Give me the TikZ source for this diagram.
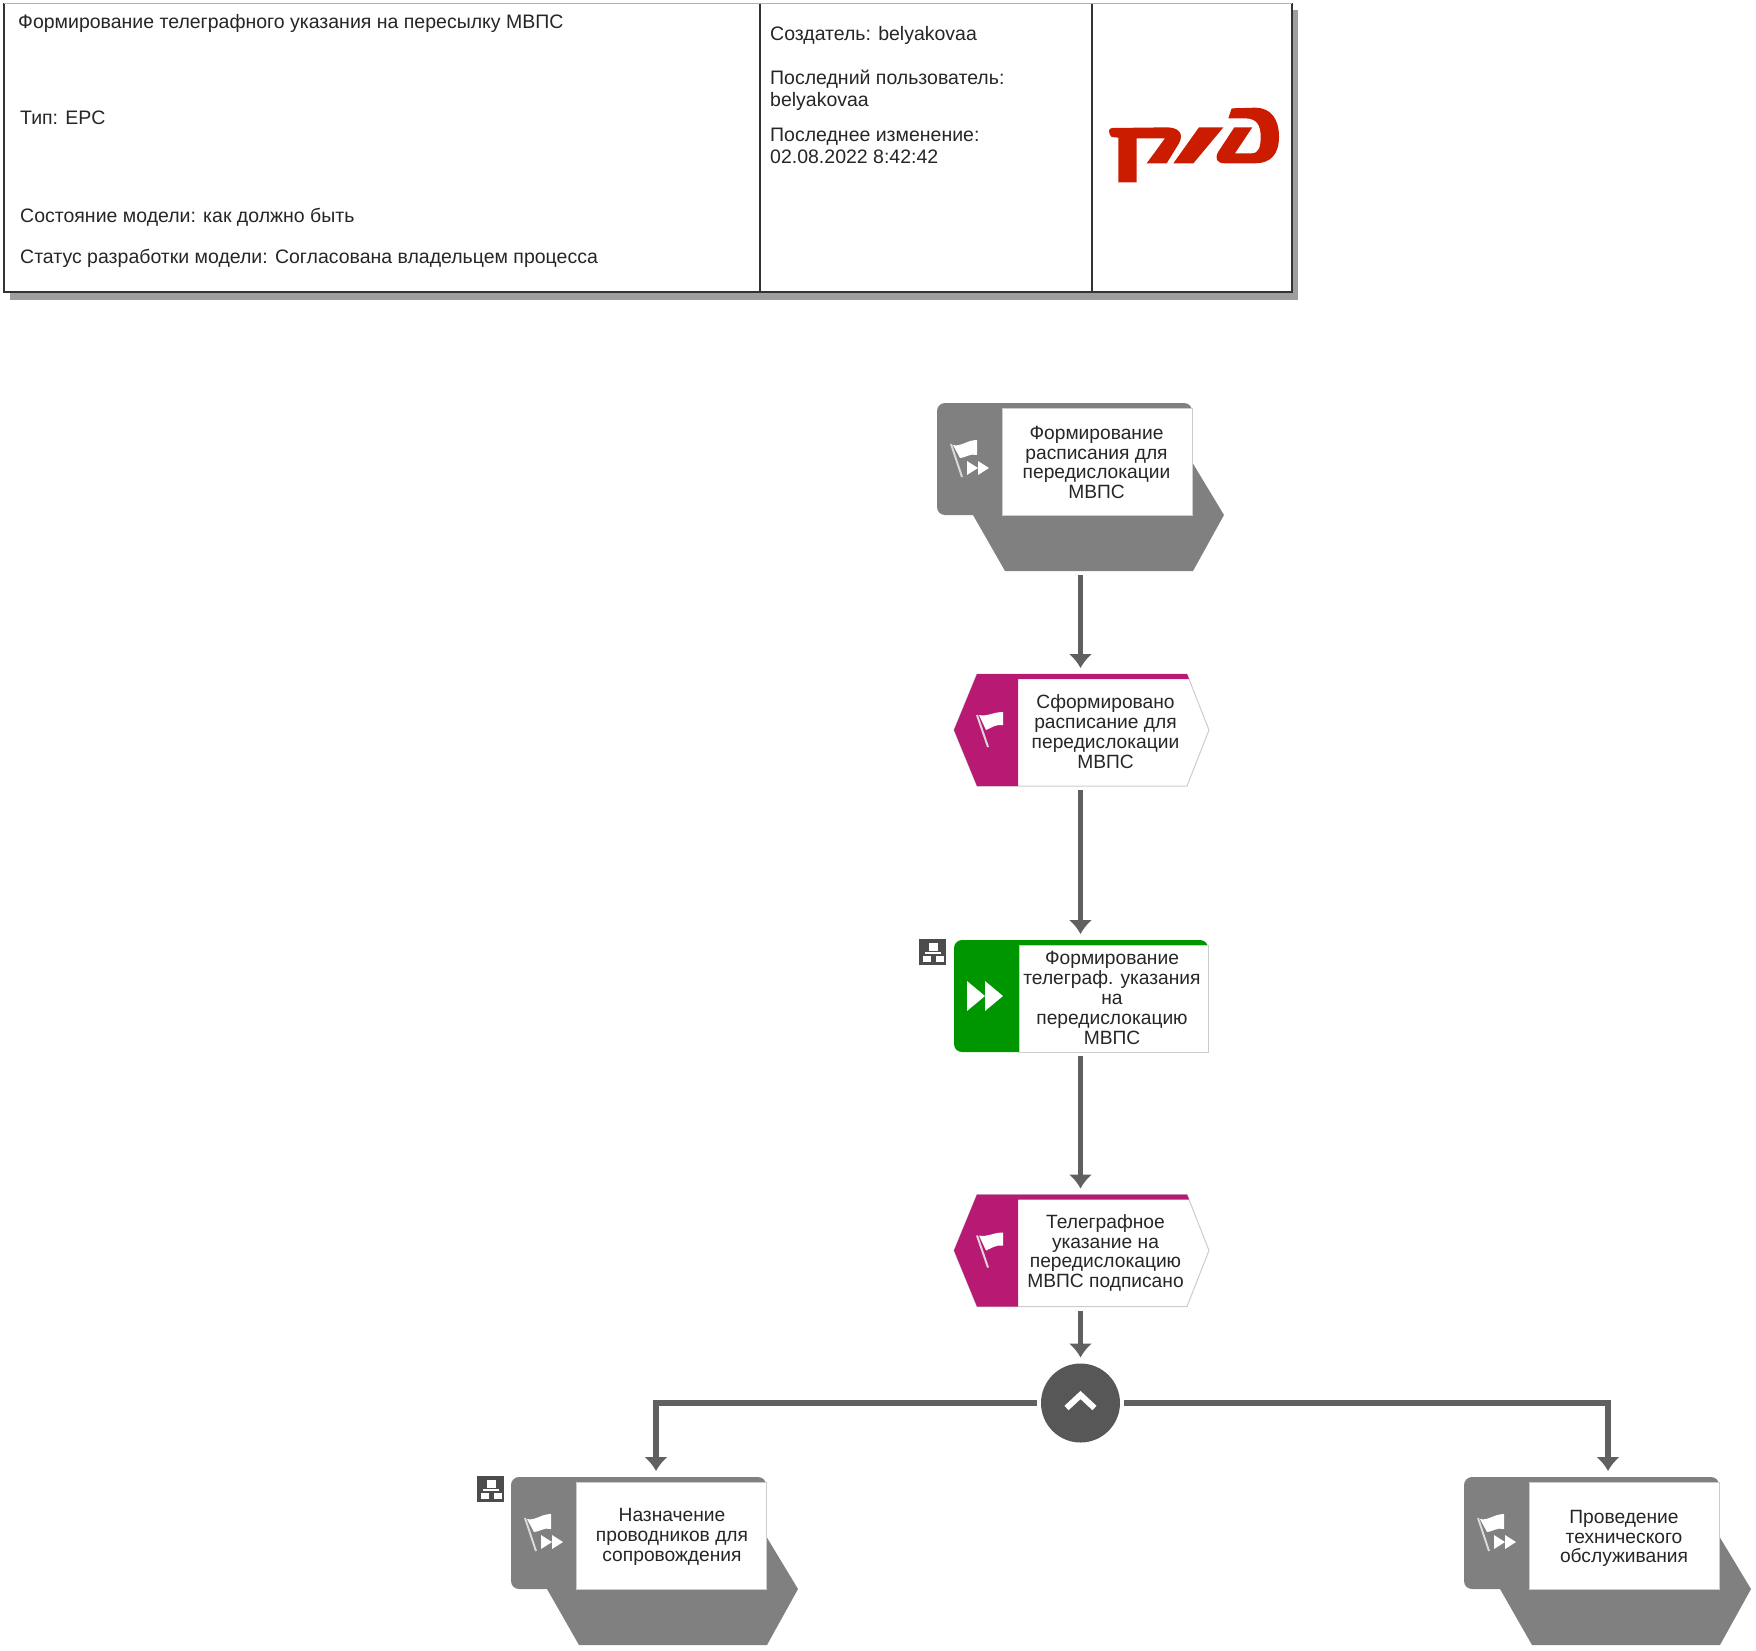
\documentclass[tikz,border=0pt]{standalone}
\usepackage{fontspec}
\setmainfont{Liberation Sans}
\usetikzlibrary{arrows.meta}
\tikzset{>={Latex[width=24pt,length=14pt]}}
\definecolor{procgray}{HTML}{808080}
\definecolor{linegray}{HTML}{606060}
\definecolor{evtpink}{HTML}{B81A73}
\definecolor{funcgreen}{HTML}{009600}
\definecolor{logored}{HTML}{CC1C00}
\tikzset{
  conn/.style={->,draw=linegray,line width=5.5pt,shorten <=4pt,shorten >=6pt},
  procbox/.style={inner sep=0pt,outer sep=0pt,minimum width=287pt,minimum height=168pt},
  flowbox/.style={inner sep=0pt,outer sep=0pt,minimum width=255pt,minimum height=112pt},
  lbl/.style={inner sep=0pt,align=center,font=\fontsize{19.2pt}{19.8pt}\selectfont,text=black!85},
  info/.style={inner sep=0pt,anchor=west,align=left,font=\fontsize{19.5pt}{22pt}\selectfont,text=black!85},
  whitebox/.style={fill=white,draw=black!20,line width=1pt},
}

\begin{document}
\begin{tikzpicture}[x=1pt,y=-1pt]
\useasboundingbox (0,0) rectangle (1756,1650);
\newcommand\ProcShape{
\fill[procgray] (255,59) -- (287,112) -- (256,168) -- (68,168) -- (36,112) -- cycle;
\fill[procgray,rounded corners=8pt] (0,0) rectangle (255,112);
\draw[whitebox] (65,5) rectangle (255,112);
\draw[white!85!black,line width=2pt] (14,41) -- (25,74);
\fill[white] (16,42) .. controls (24,44) and (30,37) .. (40,37) -- (40,52) .. controls (33,50) and (28,55) .. (23,55) -- cycle;
\fill[white] (30,58) -- (30,72) -- (41,65) -- cycle;
\fill[white] (41,58) -- (41,72) -- (52,65) -- cycle;
}
\newcommand\EvtShape{
\draw[whitebox] (-127,0) -- (-104,-56) -- (106,-56) -- (128,0) -- (106,56) -- (-104,56) -- cycle;
\fill[evtpink] (-127,0) -- (-104,-56) -- (106,-56) -- (108,-51) -- (-63,-51) -- (-63,56) -- (-104,56) -- cycle;
\draw[white!85!black,line width=2pt] (-104,-15) -- (-93,17);
\fill[white] (-102,-15) .. controls (-94,-13) and (-88,-18) .. (-78,-18) -- (-78,-5) .. controls (-85,-6) and (-90,-2) .. (-95,0) -- cycle;
}
\newcommand\TreeIcon{
\fill[black!70] (0,0) rectangle (27,26);
\fill[white] (10,4) rectangle (19,11.5);
\fill[white] (6,13) rectangle (22,14.5);
\fill[white] (4,17) rectangle (12,23);
\fill[white] (17,17) rectangle (25,23);
}

% header
\fill[black!38] (10,10) rectangle (1298,300);
\draw[fill=white,line width=1.2pt,draw=black!80] (4,3.5) rectangle (1292,292);
\draw[black!30,line width=1.2pt] (4,3.5) -- (1292,3.5);
\draw[line width=1.2pt,draw=black!80] (760,3.5) -- (760,292);
\draw[line width=1.2pt,draw=black!80] (1092,3.5) -- (1092,292);
\node[info] (title) at (18,23) {Формирование телеграфного указания на пересылку МВПС};
\node[info] (kind) at (20,118) {Тип: EPC};
\node[info] (state) at (20,217) {Состояние модели: как должно быть};
\node[info] (status) at (20,258) {Статус разработки модели: Согласована владельцем процесса};
\node[info] (creator) at (770,35) {Создатель: belyakovaa};
\node[info] (lastuser) at (770,90) {Последний пользователь:\\belyakovaa};
\node[info] (lastchange) at (770,146) {Последнее изменение:\\02.08.2022 8:42:42};

% logo
\begin{scope}[shift={(1095,95)},scale=1/3]
\fill[logored] (42,108) .. controls (42,102) and (46,99) .. (52,99) -- (215,97) .. controls (250,97) and (268,115) .. (252,145) -- (215,205) -- (155,205) -- (210,130) -- (125,130) -- (125,262) -- (70,262) -- (70,128) -- (50,126) .. controls (45,122) and (42,115) .. (42,108) -- cycle;
\fill[logored] (312,97) -- (385,97) -- (295,205) -- (235,205) -- cycle;
\fill[logored] (410,40) -- (480,38) .. controls (530,38) and (552,75) .. (552,125) .. controls (552,180) and (525,205) .. (480,205) -- (390,205) .. controls (365,205) and (358,190) .. (370,170) -- (418,97) -- (472,97) -- (420,175) -- (470,175) .. controls (492,175) and (497,155) .. (497,125) .. controls (497,90) and (485,70) .. (450,70) -- (400,70) -- cycle;
\end{scope}

% top process
\begin{scope}[shift={(937,403)}]
\ProcShape
\end{scope}
\node[procbox] (procA) at (1080.5,487) {};
\node[lbl] (procAtext) at (1096.5,462.5) {Формирование\\расписания для\\передислокации\\МВПС};

\begin{scope}[shift={(1081,730)}]
\EvtShape
\end{scope}
\node[flowbox] (evtA) at (1080.5,730) {};
\node[lbl] (evtAtext) at (1105.5,731.5) {Сформировано\\расписание для\\передислокации\\МВПС};

\begin{scope}[shift={(1081,996)}]
\fill[funcgreen,rounded corners=8pt] (-127,-56) rectangle (127,56);
\draw[whitebox] (-62,-51) rectangle (127,56);
\fill[white] (-114,-15) -- (-114,15) -- (-96,0) -- cycle;
\fill[white] (-96,-15) -- (-96,15) -- (-78,0) -- cycle;
\end{scope}
\node[flowbox] (funcA) at (1080.5,996) {};
\node[lbl] (funcAtext) at (1112,998) {Формирование\\телеграф. указания\\на\\передислокацию\\МВПС};
\begin{scope}[shift={(919,939)}]
\TreeIcon
\end{scope}

\begin{scope}[shift={(1081,1250.5)}]
\EvtShape
\end{scope}
\node[flowbox] (evtB) at (1080.5,1250.5) {};
\node[lbl] (evtBtext) at (1105.5,1253) {Телеграфное\\указание на\\передислокацию\\МВПС подписано};

% branch
\node[circle,fill=black!66,inner sep=0pt,outer sep=0pt,minimum size=79pt] (andA) at (1080.5,1403) {};
\draw[white,line width=6pt] (1066.5,1408) -- (1080.5,1395) -- (1094.5,1408);

\begin{scope}[shift={(511,1477)}]
\ProcShape
\end{scope}
\node[procbox] (procB) at (656,1561) {};
\node[lbl] (procBtext) at (672,1537) {Назначение\\проводников для\\сопровождения};
\begin{scope}[shift={(477,1476)}]
\TreeIcon
\end{scope}

\begin{scope}[shift={(1464,1477)}]
\ProcShape
\end{scope}
\node[procbox] (procC) at (1608,1561) {};
\node[lbl] (procCtext) at (1624,1538.5) {Проведение\\технического\\обслуживания};

\draw[conn] (procA) -- (evtA);
\draw[conn] (evtA) -- (funcA);
\draw[conn] (funcA) -- (evtB);
\draw[conn] (evtB) -- (andA);
\draw[conn] (andA) -| (procB);
\draw[conn] (andA) -| (procC);

\end{tikzpicture}
\end{document}
